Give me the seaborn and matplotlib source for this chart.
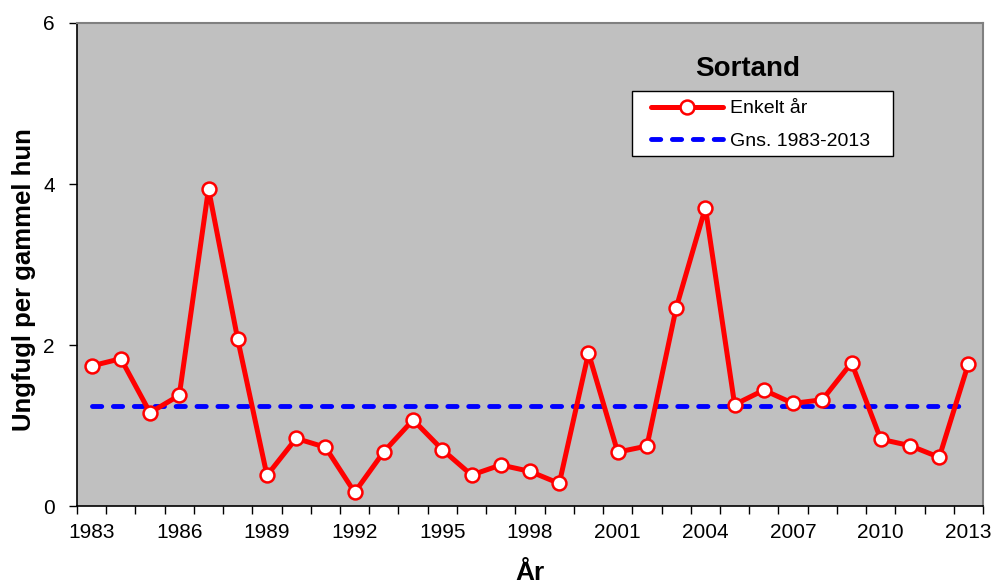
import matplotlib
matplotlib.use("Agg")
import matplotlib.pyplot as plt
import seaborn as sns
import pandas as pd
import numpy as np
from matplotlib.ticker import FixedLocator, NullFormatter
from matplotlib.patches import Rectangle

years = list(range(1983, 2014))
values = [1.74, 1.83, 1.16, 1.375, 3.94, 2.07, 0.38, 0.84, 0.73, 0.17,
          0.675, 1.07, 0.70, 0.385, 0.51, 0.43, 0.28, 1.90, 0.67, 0.745,
          2.46, 3.705, 1.26, 1.44, 1.275, 1.32, 1.78, 0.83, 0.75, 0.605, 1.77]
mean_value = 1.24
xtick_labels = [str(y) for y in range(1983, 2014, 3)]
title = "Sortand"
series_label = "Enkelt år"
mean_label = "Gns. 1983-2013"

sns.set_style("white")
plt.rcParams["font.family"] = ["Liberation Sans", "DejaVu Sans"]
plt.rcParams["text.color"] = "black"
plt.rcParams["axes.labelcolor"] = "black"
plt.rcParams["xtick.color"] = "black"
plt.rcParams["ytick.color"] = "black"

df = pd.DataFrame({"year": years, "value": values})
df_mean = pd.DataFrame({"year": [years[0], years[-1]], "value": [mean_value, mean_value]})

fig = plt.figure(figsize=(9.92, 5.85), dpi=100)
ax = fig.add_axes([0.0776, 0.135, 0.9134, 0.8257])
ax.set_facecolor("#c0c0c0")

sns.lineplot(data=df, x="year", y="value", ax=ax, color="red", linewidth=3.6,
             marker="o", markersize=10, markerfacecolor="white",
             markeredgecolor="red", markeredgewidth=1.8, label=series_label, zorder=3)
sns.lineplot(data=df_mean, x="year", y="value", ax=ax, color="blue", linewidth=3.5,
             dashes=False, label=mean_label, zorder=2)
ax.lines[-1].set_dashes([1.9, 2.4])
ax.lines[-1].set_dash_capstyle("round")

ax.set_xlim(1982.5, 2013.5)
ax.set_ylim(0, 6)
ax.set_yticks([0, 2, 4, 6])
ax.set_xticks(list(range(1983, 2014, 3)))
ax.set_xticklabels(xtick_labels)
ax.xaxis.set_minor_locator(FixedLocator(np.arange(1982.5, 2014.0, 1.0)))
ax.xaxis.set_minor_formatter(NullFormatter())
ax.tick_params(axis="x", which="major", length=0, labelsize=15, pad=12)
ax.tick_params(axis="x", which="minor", length=6, width=1, color="black", direction="out", bottom=True)
ax.tick_params(axis="y", which="major", length=6, width=1, color="black", direction="out", left=True,
               labelsize=15, pad=10)

for side in ["left", "bottom"]:
    ax.spines[side].set_color("black")
    ax.spines[side].set_linewidth(1.2)
for side in ["top", "right"]:
    ax.spines[side].set_color("#808080")
    ax.spines[side].set_linewidth(1.5)

ax.set_xlabel("År", fontsize=19, fontweight="bold", labelpad=14)
ax.set_ylabel("Ungfugl per gammel hun", fontsize=18.5, fontweight="bold", labelpad=5)
ax.yaxis.label.set_y(0.468)

ax.text(0.740, 0.905, title, transform=ax.transAxes, ha="center", va="center",
        fontsize=20, fontweight="bold")

# legend box
ax.add_patch(Rectangle((0.6126, 0.7246), 0.288, 0.1346, transform=ax.transAxes,
                       facecolor="white", edgecolor="black", linewidth=1.0, zorder=4))
leg = ax.legend(loc="upper left", bbox_to_anchor=(0.633, 0.841), frameon=False, fontsize=14,
                handlelength=3.75, borderpad=0, borderaxespad=0, labelspacing=0.78,
                handletextpad=0.35)
leg.set_zorder(5)

fig.savefig("out.png", dpi=100)
